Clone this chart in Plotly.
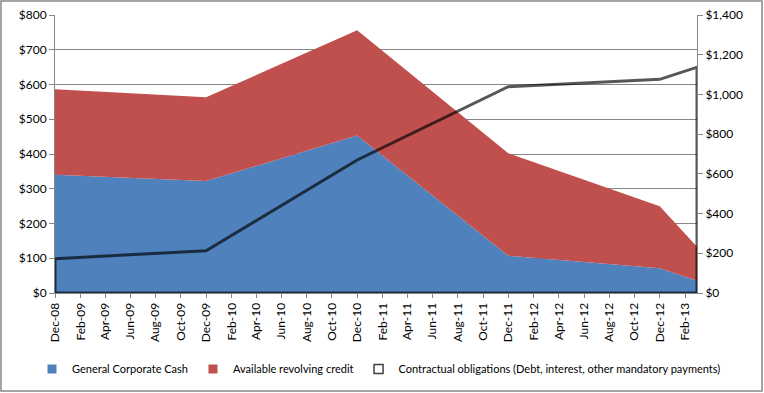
import plotly.graph_objects as go

dates = ["2008-12-01", "2009-12-01", "2010-12-01", "2011-12-01", "2012-12-01", "2013-03-01"]
general_cash = [340, 322, 453, 107, 71, 35]
revolving_credit = [246, 241, 303, 295, 179, 98]
contractual = [173, 213, 670, 1039, 1076, 1137]

BLUE = "#4F81BD"
RED = "#C0504D"
LINE = "rgba(0,0,0,0.66)"
FONT = "Lato"

fig = go.Figure()
fig.add_trace(go.Scatter(x=dates, y=general_cash, stackgroup="s", mode="none",
                         fillcolor=BLUE, showlegend=False, hoverinfo="skip"))
fig.add_trace(go.Scatter(x=dates, y=revolving_credit, stackgroup="s", mode="none",
                         fillcolor=RED, showlegend=False, hoverinfo="skip"))
# contractual obligations as unfilled area outline on secondary axis
cx = [dates[0]] + dates + [dates[-1], dates[0]]
cy = [0] + contractual + [0, 0]
fig.add_trace(go.Scatter(x=cx, y=cy, yaxis="y2", mode="lines", fill="toself",
                         fillcolor="rgba(0,0,0,0)", line=dict(color=LINE, width=3),
                         showlegend=False, hoverinfo="skip"))

# legend entries
for name, col, lc in [("General Corporate Cash", BLUE, BLUE),
                      ("Available revolving credit", RED, RED),
                      ("Contractual obligations (Debt, interest, other mandatory payments)", "white", "#404040")]:
    fig.add_trace(go.Scatter(x=[None], y=[None], mode="markers", name=name,
                             marker=dict(symbol="square", size=9, color=col,
                                         line=dict(color=lc, width=1.5 if col == "white" else 0))))

W, H = 764, 393
L, R, T, B = 55, 697, 15, 293
pw, ph = R - L, B - T

fig.update_layout(
    width=W, height=H,
    margin=dict(l=L, r=W - R, t=T, b=H - B, autoexpand=False),
    paper_bgcolor="white", plot_bgcolor="white",
    font=dict(family=FONT, size=12, color="black"),
    xaxis=dict(type="date", range=["2008-12-01", "2013-03-01"], tick0="2008-12-01", dtick="M2",
               tickformat="%b-%y", tickangle=-90, ticks="outside", ticklen=4, tickcolor="#868686",
               showgrid=False, showline=True, linecolor="#868686", linewidth=1,
               tickfont=dict(size=12), zeroline=False, automargin=False),
    yaxis=dict(range=[0, 800], dtick=100, tickprefix="$", showgrid=True, gridcolor="#868686",
               gridwidth=1, showline=True, linecolor="#868686", ticks="outside", ticklen=5,
               tickcolor="#868686", zeroline=False, tickfont=dict(size=12), automargin=False),
    yaxis2=dict(range=[0, 1400], dtick=200, tickprefix="$", tickformat=",", overlaying="y",
                side="right", showgrid=False, showline=True, linecolor="#868686", ticks="outside",
                ticklen=5, tickcolor="#868686", zeroline=False, tickfont=dict(size=12),
                automargin=False),
    legend=dict(orientation="h", x=(726 - L) / pw, xanchor="right", y=(B - 369) / ph,
                yanchor="middle", font=dict(size=11), itemwidth=30, tracegroupgap=0,
                traceorder="normal", bgcolor="rgba(0,0,0,0)"),
    shapes=[dict(type="rect", xref="paper", yref="paper",
                 x0=(1 - L) / pw, x1=(762 - L) / pw, y0=(B - 391) / ph, y1=(B - 1) / ph,
                 line=dict(color="#868686", width=1.5), layer="below")],
)

fig.write_html("out.html", config={"displayModeBar": False},
               post_script="document.body.style.margin='0px';")
